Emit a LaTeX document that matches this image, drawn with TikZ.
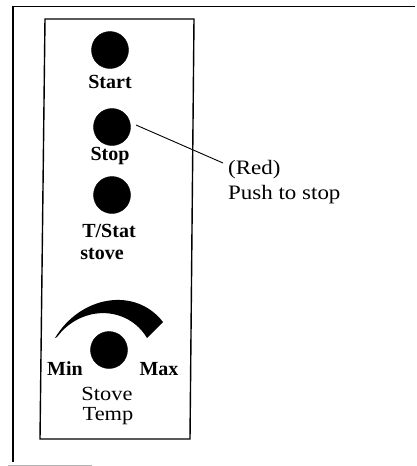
\documentclass[tikz,border=0pt]{standalone}
\usepackage{fontspec}
\setmainfont{Liberation Serif}
\newfontfamily\widefont[FakeStretch=1.12]{Liberation Serif}
\begin{document}
\begin{tikzpicture}[x=1pt,y=-1pt,
  knob/.style={circle,fill=black,draw=black,minimum size=37pt,inner sep=0pt},
  blabel/.style={inner sep=0pt,anchor=base,font=\fontsize{20}{22}\selectfont\bfseries},
  rlabel/.style={inner sep=0pt,anchor=base,font=\fontsize{20}{22}\selectfont\widefont},
  note/.style={inner sep=0pt,anchor=base west,font=\fontsize{20.5}{23}\selectfont\widefont},
  frame/.style={line width=1.4pt,black}]
\useasboundingbox (0,0) rectangle (416,466);
% outer frame
\coordinate (ftr) at (415,6.5);
\coordinate (ftl) at (13,6.5);
\coordinate (fbl) at (13,462);
\draw[frame] (ftr) -- (ftl) -- (fbl);
\coordinate (bl1) at (8,465);
\coordinate (bl2) at (92,465);
\draw[gray!60,line width=0.6pt] (bl1) -- (bl2);
% inner panel
\coordinate (p1) at (45,19);
\coordinate (p2) at (194,19);
\coordinate (p3) at (190,439);
\coordinate (p4) at (40,439);
\draw[frame] (p1) -- (p2) -- (p3) -- (p4) -- cycle;
% knobs
\node[knob] (start) at (110,50) {};
\node[blabel] (startl) at (110,88) {Start};
\node[knob] (stop) at (112,127) {};
\node[blabel] (stopl) at (110,160) {Stop};
\node[knob] (tstat) at (112,195) {};
\node[blabel] (tstatl) at (109,237) {T/Stat};
\node[blabel] (stovel) at (102,259) {stove};
% dial
\fill (55,338) .. controls (80,296) and (135,286) .. (163,322)
      -- (147,338) .. controls (128,306) and (82,304) .. (57,337) -- cycle;
\node[knob] (dial) at (109,350) {};
\node[blabel] (minl) at (65,375) {Min};
\node[blabel] (maxl) at (159,375) {Max};
\node[rlabel] (stovet) at (107,400) {Stove};
\node[rlabel] (temp) at (108,420) {Temp};
% callout
\node[note] (red) at (228,174) {(Red)};
\node[note] (push) at (228,199) {Push to stop};
\coordinate (ls) at (136,125);
\coordinate (le) at (223,163);
\draw[line width=0.9pt] (ls) -- (le);
\end{tikzpicture}
\end{document}
